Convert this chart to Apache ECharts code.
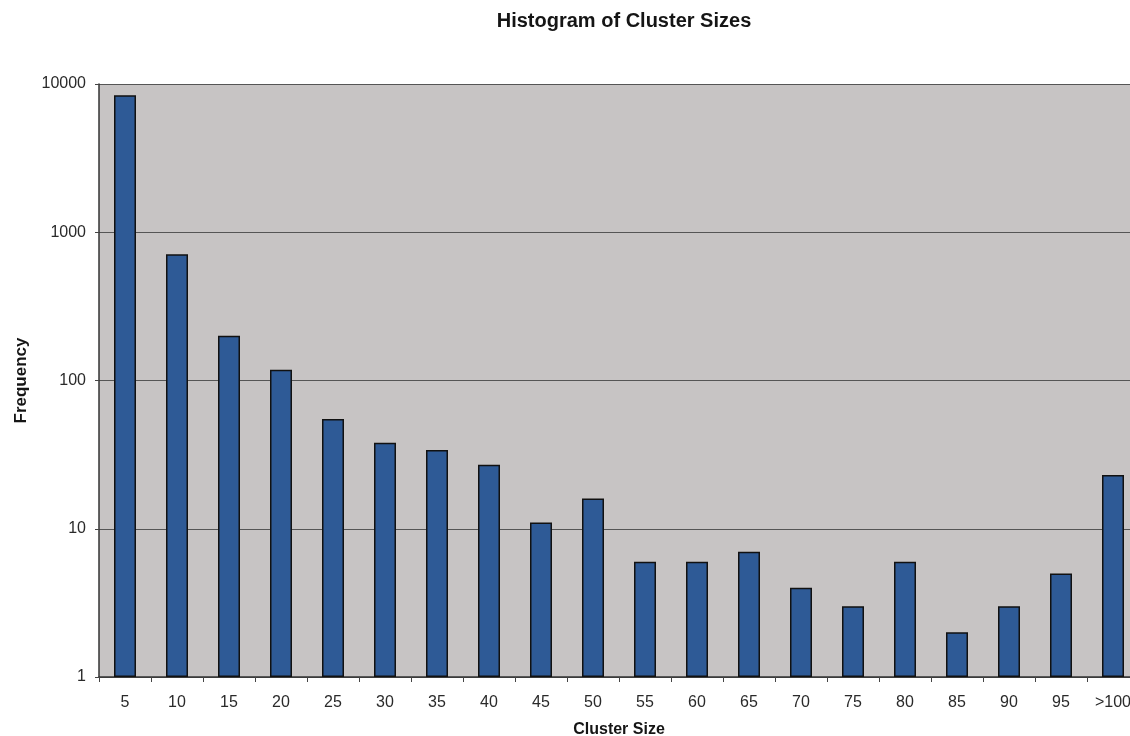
<!DOCTYPE html>
<html>
<head>
<meta charset="utf-8">
<style>
  html, body { margin: 0; padding: 0; background: #ffffff; }
  #chart { width: 1130px; height: 736px; }
</style>
<script src="https://cdn.jsdelivr.net/npm/echarts@6/dist/echarts.min.js"></script>
</head>
<body>
<div id="chart"></div>
<script>
// Cluster size bins and how many clusters fall into each
const clusterSizes = ['5', '10', '15', '20', '25', '30', '35', '40', '45', '50',
                      '55', '60', '65', '70', '75', '80', '85', '90', '95', '>100'];
const frequencies = [8400, 710, 200, 118, 55, 38, 34, 27, 11, 16,
                     6, 6, 7, 4, 3, 6, 2, 3, 5, 23];
const yTicks = [1, 10, 100, 1000, 10000];

const chart = echarts.init(document.getElementById('chart'));

const fontFamily = 'Liberation Sans, Arial, sans-serif';

chart.setOption({
  animation: false,
  backgroundColor: '#ffffff',
  title: {
    text: 'Histogram of Cluster Sizes',
    left: 619,
    textAlign: 'center',
    top: 6,
    textStyle: { fontFamily, fontSize: 20, fontWeight: 'bold', color: '#151515' }
  },
  grid: {
    left: 99,
    right: -9,
    top: 84,
    bottom: 59,
    containLabel: false,
    outerBoundsMode: 'none',
    show: true,
    backgroundColor: '#c7c4c4',
    borderWidth: 0
  },
  xAxis: {
    type: 'category',
    data: clusterSizes,
    boundaryGap: true,
    name: 'Cluster Size',
    nameLocation: 'middle',
    nameGap: 45,
    nameTextStyle: { fontFamily, fontSize: 16, fontWeight: 'bold', color: '#151515' },
    axisLine: { show: true, lineStyle: { color: '#333', width: 1.5 } },
    axisTick: { show: true, interval: 0, alignWithLabel: false, length: 5, lineStyle: { color: '#444' } },
    axisLabel: { fontFamily, fontSize: 16, color: '#2a2a2a', margin: 18, interval: 0 },
    splitLine: { show: false }
  },
  yAxis: {
    type: 'log',
    logBase: 10,
    min: yTicks[0],
    max: yTicks[yTicks.length - 1],
    name: 'Frequency',
    nameLocation: 'middle',
    nameGap: 69,
    nameRotate: 90,
    nameTextStyle: { fontFamily, fontSize: 17, fontWeight: 'bold', color: '#151515' },
    axisLine: { show: true, lineStyle: { color: '#333', width: 1.5 } },
    axisTick: { show: true, length: 4, lineStyle: { color: '#444' } },
    axisLabel: { fontFamily, fontSize: 16, color: '#2a2a2a', margin: 13,
                 formatter: (v) => String(Math.round(v)) },
    splitLine: { show: true, lineStyle: { color: '#555', width: 1 } },
    minorTick: { show: false }
  },
  series: [{
    type: 'bar',
    data: frequencies,
    barWidth: 22,
    itemStyle: {
      color: '#2e5a96',
      borderColor: '#111',
      borderWidth: 1.5
    }
  }]
});
</script>
</body>
</html>
